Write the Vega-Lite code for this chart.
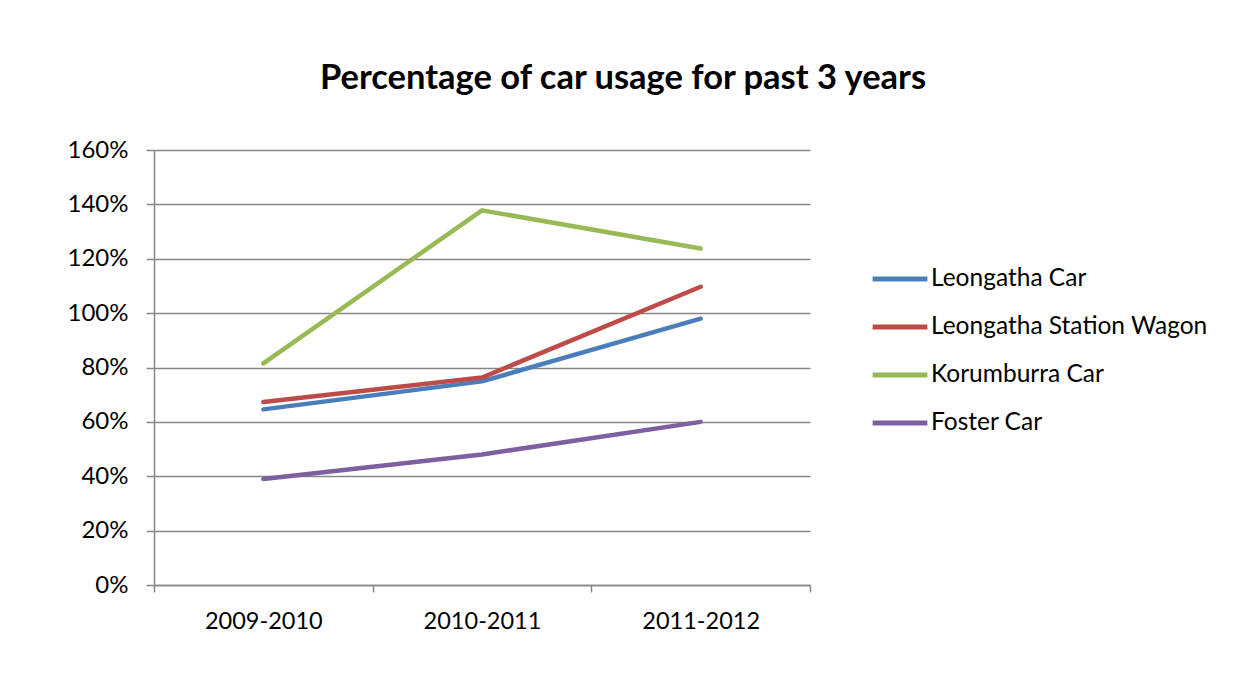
{
  "$schema": "https://vega.github.io/schema/vega-lite/v6.json",
  "autosize": "none",
  "width": 656,
  "height": 435,
  "padding": {"left": 154, "top": 150, "right": 428, "bottom": 99},
  "background": "white",
  "title": {
    "text": "Percentage of car usage for past 3 years",
    "font": "Lato",
    "fontSize": 34.5,
    "fontWeight": "bold",
    "color": "black",
    "anchor": "middle",
    "dx": 141,
    "offset": 42
  },
  "data": {
    "values": [
      {"year": "2009-2010", "series": "Leongatha Car", "value": 0.646},
      {"year": "2010-2011", "series": "Leongatha Car", "value": 0.749},
      {"year": "2011-2012", "series": "Leongatha Car", "value": 0.98},
      {"year": "2009-2010", "series": "Leongatha Station Wagon", "value": 0.673},
      {"year": "2010-2011", "series": "Leongatha Station Wagon", "value": 0.763},
      {"year": "2011-2012", "series": "Leongatha Station Wagon", "value": 1.097},
      {"year": "2009-2010", "series": "Korumburra Car", "value": 0.815},
      {"year": "2010-2011", "series": "Korumburra Car", "value": 1.378},
      {"year": "2011-2012", "series": "Korumburra Car", "value": 1.238},
      {"year": "2009-2010", "series": "Foster Car", "value": 0.39},
      {"year": "2010-2011", "series": "Foster Car", "value": 0.48},
      {"year": "2011-2012", "series": "Foster Car", "value": 0.6}
    ]
  },
  "mark": {"type": "line", "strokeWidth": 4.5, "strokeCap": "round", "strokeJoin": "round"},
  "encoding": {
    "x": {
      "field": "year",
      "type": "nominal",
      "bandPosition": 0.5,
      "scale": {"type": "band", "paddingInner": 0, "paddingOuter": 0},
      "axis": {
        "title": null,
        "labelAngle": 0,
        "tickBand": "extent",
        "grid": false,
        "domainColor": "#868686",
        "domainWidth": 1.5,
        "tickColor": "#868686",
        "tickWidth": 1.5,
        "tickSize": 7,
        "labelFont": "Lato",
        "labelFontSize": 23.5,
        "labelColor": "black",
        "labelPadding": 17
      }
    },
    "y": {
      "field": "value",
      "type": "quantitative",
      "scale": {"domain": [0, 1.6], "nice": false},
      "axis": {
        "title": null,
        "values": [0, 0.2, 0.4, 0.6, 0.8, 1.0, 1.2, 1.4, 1.6],
        "format": ".0%",
        "gridColor": "#868686",
        "gridWidth": 1.5,
        "domainColor": "#868686",
        "domainWidth": 1.5,
        "tickColor": "#868686",
        "tickWidth": 1.5,
        "tickSize": 8,
        "labelFont": "Lato",
        "labelFontSize": 24,
        "labelColor": "black",
        "labelPadding": 18
      }
    },
    "color": {
      "field": "series",
      "type": "nominal",
      "scale": {
        "domain": ["Leongatha Car", "Leongatha Station Wagon", "Korumburra Car", "Foster Car"],
        "range": ["#4A7EBB", "#BE4B48", "#98B954", "#7D60A0"]
      },
      "legend": {
        "title": null,
        "orient": "none",
        "legendX": 716,
        "legendY": 99,
        "symbolType": "stroke",
        "symbolSize": 3000,
        "symbolStrokeWidth": 5,
        "labelFont": "Lato",
        "labelFontSize": 24.5,
        "labelColor": "black",
        "labelOffset": 1,
        "rowPadding": 6,
        "labelLimit": 400
      }
    }
  },
  "config": {
    "view": {"stroke": null}
  }
}
